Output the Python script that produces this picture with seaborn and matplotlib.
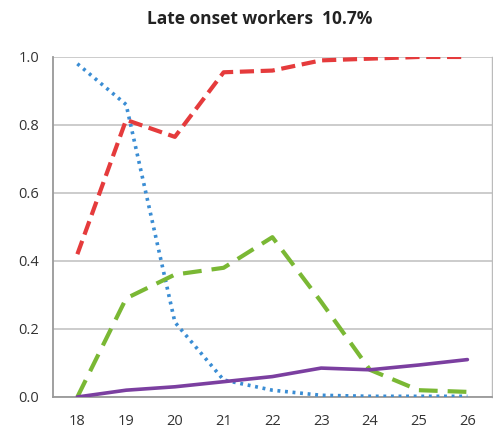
import numpy as np
import pandas as pd
import matplotlib
matplotlib.use("Agg")
import matplotlib.pyplot as plt
import seaborn as sns

# ── Data ─────────────────────────────────────────────────────────────────────
ages = [18, 19, 20, 21, 22, 23, 24, 25, 26]
red_vals = [0.42, 0.815, 0.765, 0.955, 0.96, 0.99, 0.995, 1.0, 1.0]
blue_vals = [0.98, 0.86, 0.22, 0.05, 0.02, 0.005, 0.002, 0.002, 0.002]
green_vals = [0.0, 0.29, 0.36, 0.38, 0.47, 0.28, 0.08, 0.02, 0.015]
purple_vals = [0.0, 0.02, 0.03, 0.045, 0.06, 0.085, 0.08, 0.094, 0.11]
y_ticks = [0.0, 0.2, 0.4, 0.6, 0.8, 1.0]
title = "Late onset workers  10.7%"

sns.set_style("white")
plt.rcParams["font.family"] = ["Open Sans", "DejaVu Sans"]

fig = plt.figure(figsize=(4.93, 4.41), dpi=100)
ax = fig.add_axes([0.1075, 0.0998, 0.890, 0.771])

series = [
    (red_vals, "#E53B3C", (0, (3.4, 1.6)), 3.0),
    (blue_vals, "#3A8DD4", (0, (0.8, 1.3)), 2.6),
    (green_vals, "#7AB834", (0, (4.5, 2.4)), 3.0),
    (purple_vals, "#7B3FA0", "-", 2.6),
]
for vals, col, ls, lw in series:
    df = pd.DataFrame({"age": ages, "v": vals})
    sns.lineplot(data=df, x="age", y="v", ax=ax, color=col, lw=lw,
                 linestyle=ls, zorder=3)

ax.set_xlim(17.5, 26.5)
ax.set_ylim(0, 1.0)
ax.set_yticks(y_ticks)
ax.set_yticklabels([f"{t:.1f}" for t in y_ticks])
ax.set_xticks(ages)
ax.set_xticks(np.arange(17.5, 27, 1.0), minor=True)
ax.tick_params(axis="x", which="major", length=0, pad=12, labelsize=10.5, colors="#333333")
ax.tick_params(axis="x", which="minor", length=4, width=1, color="#999999", direction="out")
ax.tick_params(axis="y", which="major", length=4, width=1, pad=6, labelsize=10.5, colors="#333333")
ax.tick_params(axis="y", which="major", color="#999999")
ax.set_xlabel("")
ax.set_ylabel("")
ax.yaxis.grid(True, color="#C8C8C8", lw=1.3)
ax.set_axisbelow(True)

for s in ["left", "bottom"]:
    ax.spines[s].set_color("#999999")
    ax.spines[s].set_linewidth(1.3)
ax.spines["top"].set_visible(False)
ax.spines["right"].set_color("#BBBBBB")
ax.spines["right"].set_linewidth(1.0)

fig.text(0.527, 0.958, title, ha="center", va="center", fontsize=12.5,
         fontweight="bold", color="#222222")

fig.savefig("out.png", dpi=100)
